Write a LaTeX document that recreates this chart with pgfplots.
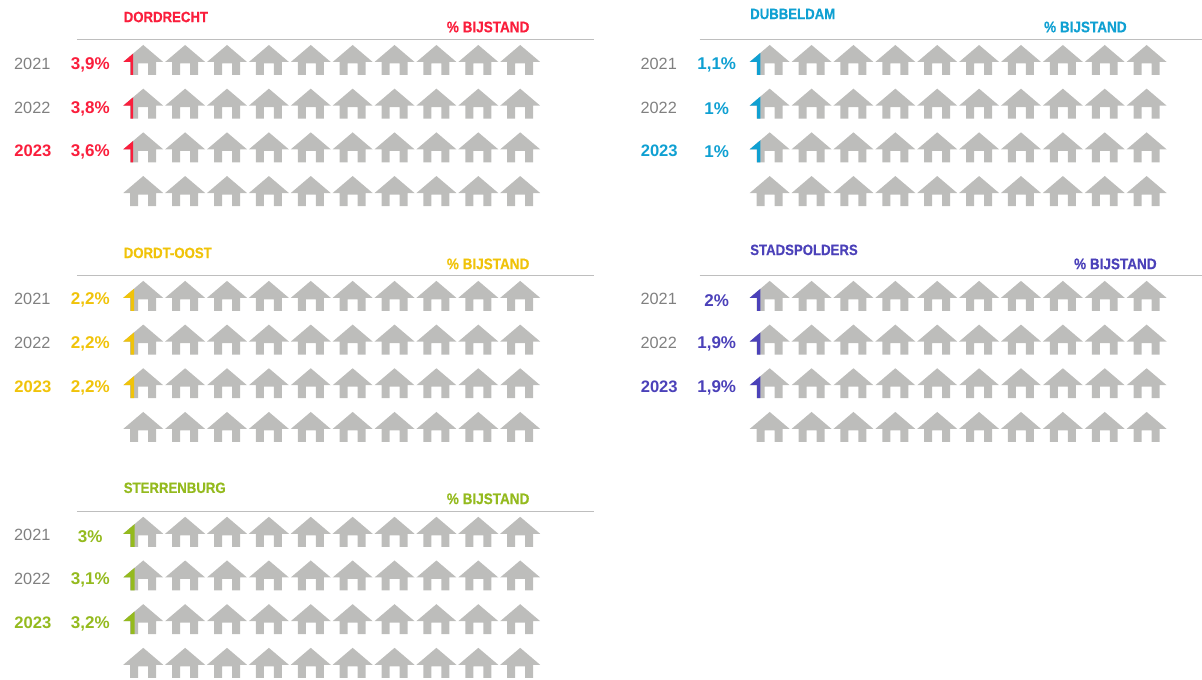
\documentclass[border=0pt]{standalone}
\usepackage{fontspec}
\setmainfont{Liberation Sans}
\newfontfamily\cond[FakeStretch=0.88,BoldFeatures={FakeBold=0.4}]{Liberation Sans}
\usepackage{pgfplots}
\usepackage{pgfplotstable}
\pgfplotsset{compat=1.18}
\definecolor{houseGray}{RGB}{189,189,187}
\definecolor{ruleGray}{RGB}{190,190,190}
\definecolor{yearGray}{RGB}{128,128,128}
\definecolor{cRed}{RGB}{250,30,60}
\definecolor{cBlue}{RGB}{15,160,210}
\definecolor{cYellow}{RGB}{240,195,10}
\definecolor{cPurple}{RGB}{75,65,185}
\definecolor{cGreen}{RGB}{148,186,30}

% house, origin at the top of the roof, 1 unit = 1 px
\pgfdeclareplotmark{house}{%
  \pgfpathmoveto{\pgfqpoint{0pt}{0pt}}%
  \pgfpathlineto{\pgfqpoint{20pt}{-17pt}}%
  \pgfpathlineto{\pgfqpoint{13pt}{-17pt}}%
  \pgfpathlineto{\pgfqpoint{13pt}{-30pt}}%
  \pgfpathlineto{\pgfqpoint{5pt}{-30pt}}%
  \pgfpathlineto{\pgfqpoint{5pt}{-18.5pt}}%
  \pgfpathlineto{\pgfqpoint{-5pt}{-18.5pt}}%
  \pgfpathlineto{\pgfqpoint{-5pt}{-30pt}}%
  \pgfpathlineto{\pgfqpoint{-13pt}{-30pt}}%
  \pgfpathlineto{\pgfqpoint{-13pt}{-17pt}}%
  \pgfpathlineto{\pgfqpoint{-20pt}{-17pt}}%
  \pgfpathclose
  \pgfusepathqfill}
\newcommand\partmark[3]{% name, right edge, height of roof there
  \pgfdeclareplotmark{#1}{%
    \pgfpathmoveto{\pgfqpoint{-20pt}{-17pt}}%
    \pgfpathlineto{\pgfqpoint{#2pt}{#3pt}}%
    \pgfpathlineto{\pgfqpoint{#2pt}{-30pt}}%
    \pgfpathlineto{\pgfqpoint{-12.5pt}{-30pt}}%
    \pgfpathlineto{\pgfqpoint{-12.5pt}{-17pt}}%
    \pgfpathclose
    \pgfusepathqfill}}
\partmark{partRed}{-10}{-8.5}
\partmark{partBlue}{-9.3}{-7.9}
\partmark{partYellow}{-9}{-7.7}
\partmark{partPurple}{-9.3}{-7.9}
\partmark{partGreen}{-8.5}{-7.2}

% apex of each house relative to the first one
\pgfplotstableread{
x y
0 0
41.9 0
83.8 0
125.7 0
167.6 0
209.5 0
251.4 0
293.3 0
335.2 0
377.1 0
0 43.7
41.9 43.7
83.8 43.7
125.7 43.7
167.6 43.7
209.5 43.7
251.4 43.7
293.3 43.7
335.2 43.7
377.1 43.7
0 87.4
41.9 87.4
83.8 87.4
125.7 87.4
167.6 87.4
209.5 87.4
251.4 87.4
293.3 87.4
335.2 87.4
377.1 87.4
0 131.1
41.9 131.1
83.8 131.1
125.7 131.1
167.6 131.1
209.5 131.1
251.4 131.1
293.3 131.1
335.2 131.1
377.1 131.1
}\houses
\pgfplotstableread{
x y
0 0
0 43.7
0 87.4
}\firsts

% #1 x of first house, #2 y of first house, #3 colour, #4 part mark, #5 title,
% #6 title y, #7 bijstand x, #8 bijstand y
\newcommand\panel[8]{%
  \addplot[only marks, mark=house, color=houseGray, mark options={draw=none, fill=houseGray}]
    table[x expr=\thisrow{x}+#1, y expr=\thisrow{y}+#2] {\houses};
  \addplot[only marks, mark=#4, color=#3, mark options={draw=none, fill=#3}]
    table[x expr=\thisrow{x}+#1, y expr=\thisrow{y}+#2] {\firsts};
  \node[anchor=west, text=#3, font=\cond\bfseries\fontsize{15}{17}\selectfont] at (axis cs:#1-23,#6) {#5};
  \node[anchor=west, text=#3, font=\cond\bfseries\fontsize{15.4}{17}\selectfont] at (axis cs:#7,#8) {\% BIJSTAND};
}
\newcommand\rulebar[3]{% x start, x end, y
  \addplot[ruleGray, line width=1pt, forget plot] coordinates {(#1,#3) (#2,#3)};
}
% first house x, y, colour, three values
\newcommand\years[6]{%
  \node[text=yearGray, font=\fontsize{16.3}{18}\selectfont] at (axis cs:#1-111,#2+18.5) {2021};
  \node[text=yearGray, font=\fontsize{16.3}{18}\selectfont] at (axis cs:#1-111,#2+62.5) {2022};
  \node[text=#3, font=\bfseries\fontsize{16.6}{18}\selectfont] at (axis cs:#1-110.5,#2+106) {2023};
  \node[text=#3, font=\bfseries\fontsize{17}{18}\selectfont] at (axis cs:#1-53,#2+19.5) {#4};
  \node[text=#3, font=\bfseries\fontsize{17}{18}\selectfont] at (axis cs:#1-53,#2+63.5) {#5};
  \node[text=#3, font=\bfseries\fontsize{17}{18}\selectfont] at (axis cs:#1-53,#2+107) {#6};
}

\begin{document}
\begin{tikzpicture}
\begin{axis}[
    width=1202pt, height=680pt, scale only axis,
    xmin=0, xmax=1202, ymin=0, ymax=680, y dir=reverse,
    hide axis, clip=false
]
\path (axis cs:0,0) (axis cs:1202,680);
\panel{143.3}{45}{cRed}{partRed}{DORDRECHT}{17}{443.5}{27}
\rulebar{77}{594}{39.5}
\years{143.3}{45}{cRed}{3,9\%}{3,8\%}{3,6\%}

\panel{770}{45}{cBlue}{partBlue}{DUBBELDAM}{14}{1041}{27}
\rulebar{700}{1202}{39.5}
\years{770}{45}{cBlue}{1,1\%}{1\%}{1\%}

\panel{143.3}{281}{cYellow}{partYellow}{DORDT-OOST}{253}{443.5}{264}
\rulebar{77}{594}{275.5}
\years{143.3}{281}{cYellow}{2,2\%}{2,2\%}{2,2\%}

\panel{770}{281}{cPurple}{partPurple}{STADSPOLDERS}{250}{1071}{264}
\rulebar{700}{1202}{275.5}
\years{770}{281}{cPurple}{2\%}{1,9\%}{1,9\%}

\panel{143.3}{517}{cGreen}{partGreen}{STERRENBURG}{488}{443.5}{499}
\rulebar{77}{594}{511.5}
\years{143.3}{517}{cGreen}{3\%}{3,1\%}{3,2\%}
\end{axis}
\end{tikzpicture}
\end{document}
